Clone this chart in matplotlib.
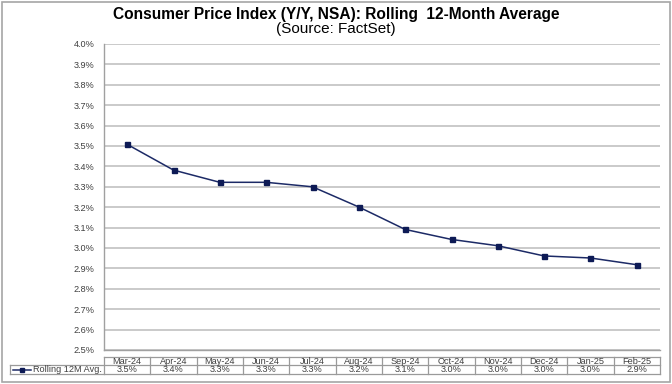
import matplotlib
matplotlib.use("Agg")
import matplotlib.pyplot as plt
from matplotlib.patches import Rectangle
from matplotlib.lines import Line2D
import numpy as np

months = ['Mar-24', 'Apr-24', 'May-24', 'Jun-24', 'Jul-24', 'Aug-24',
          'Sep-24', 'Oct-24', 'Nov-24', 'Dec-24', 'Jan-25', 'Feb-25']
values = [3.508, 3.382, 3.322, 3.322, 3.300, 3.201,
          3.091, 3.042, 3.011, 2.961, 2.951, 2.918]
series_name = 'Rolling 12M Avg.'
title = 'Consumer Price Index (Y/Y, NSA): Rolling  12-Month Average'
subtitle = '(Source: FactSet)'
y_ticks = [2.5, 2.6, 2.7, 2.8, 2.9, 3.0, 3.1, 3.2, 3.3, 3.4, 3.5, 3.6, 3.7, 3.8, 3.9, 4.0]

plt.rcParams['font.family'] = ['Liberation Sans', 'DejaVu Sans']

W, H = 672, 384
fig = plt.figure(figsize=(W / 100, H / 100), dpi=100)
fig.patch.set_facecolor('white')

def fx(px):
    return px / W

def fy(py):
    return 1 - py / H

navy = '#1c2a66'
grid_c = '#c6c6c6'
txt_c = '#404040'
border_c = '#a0a0a0'
fs = 6.6

# outer border
fig.add_artist(Rectangle((fx(1.5), fy(382)), fx(670) - fx(1.5), fy(1.5) - fy(382),
                         transform=fig.transFigure, fill=False, ec='#a6a6a6', lw=1.2))

L, R, T, B = 104, 660, 44, 350
ax = fig.add_axes([fx(L), fy(B), fx(R) - fx(L), fy(T) - fy(B)])
x = np.arange(len(months))
ax.set_xlim(-0.5, len(months) - 0.5)
ax.set_ylim(2.5, 4.0)
ax.set_yticks(y_ticks)
ax.set_yticklabels([f'{t:.1f}%' for t in y_ticks], fontsize=fs, color=txt_c)
ax.tick_params(axis='y', length=0, pad=7)
ax.set_xticks([])
for t in y_ticks:
    ax.axhline(t, color=grid_c, lw=1.3, zorder=1)
for s in ['top', 'right']:
    ax.spines[s].set_visible(False)
ax.spines['left'].set_color(border_c)
ax.spines['bottom'].set_color(border_c)
ax.spines['left'].set_linewidth(1.0)
ax.spines['bottom'].set_linewidth(1.0)
ax.plot(x, values, color=navy, lw=1.1, marker='s', markersize=3.6,
        markerfacecolor='#0d1a55', markeredgecolor='#0d1a55', zorder=3)

# title
fig.text(0.5, fy(18.5), title, ha='center', va='baseline', fontsize=11.2,
         fontweight='bold', color='black')
fig.text(0.5, fy(33.5), subtitle, ha='center', va='baseline', fontsize=11.0,
         color='black')

# data table
TT, TM, TB = 356.5, 365, 374
colw = (R - L) / len(months)
tax = fig.add_axes([fx(10), fy(TB), fx(R) - fx(10), fy(TT) - fy(TB)])
left_units = (L - 10) / colw
tax.set_xlim(-0.5 - left_units, len(months) - 0.5)
tax.set_ylim(TB, TT)
tax.axis('off')
lc = '#9a9a9a'
tax.plot([-0.5, len(months) - 0.5], [TT, TT], color=lc, lw=0.9, clip_on=False)
tax.plot([-0.5 - left_units, len(months) - 0.5], [TM, TM], color=lc, lw=0.9, clip_on=False)
tax.plot([-0.5 - left_units, len(months) - 0.5], [TB, TB], color=lc, lw=0.9, clip_on=False)
for i in range(len(months) + 1):
    tax.plot([i - 0.5, i - 0.5], [TT, TB], color=lc, lw=0.9, clip_on=False)
tax.plot([-0.5 - left_units] * 2, [TM, TB], color=lc, lw=0.9, clip_on=False)
for i, (m, v) in enumerate(zip(months, values)):
    tax.text(i, (TT + TM) / 2 + 0.3, m, ha='center', va='center', fontsize=fs, color=txt_c)
    tax.text(i, (TM + TB) / 2 + 0.3, f'{v:.1f}%', ha='center', va='center', fontsize=fs, color=txt_c)
# legend key
lx0 = -0.5 - left_units + 3 / colw
lx1 = lx0 + 18 / colw
ymid = (TM + TB) / 2
tax.add_line(Line2D([lx0, lx1], [ymid, ymid], color=navy, lw=1.1, clip_on=False))
tax.add_line(Line2D([(lx0 + lx1) / 2], [ymid], marker='s', markersize=3.4, color='#0d1a55',
                    clip_on=False))
tax.text(lx1 + 2 / colw, ymid + 0.3, series_name, ha='left', va='center', fontsize=fs, color=txt_c)

fig.savefig('out.png', dpi=100, facecolor='white')
